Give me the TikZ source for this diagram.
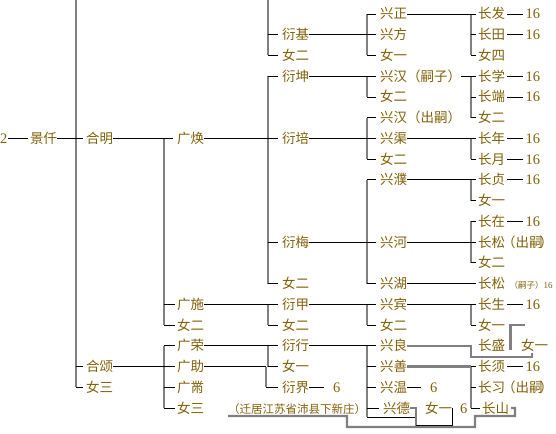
\documentclass[tikz,border=0pt]{standalone}
\usepackage{fontspec}
\newfontfamily\cjk{Noto Sans CJK SC}
\newfontfamily\digits{Liberation Serif}
\usepackage{tikz}
\usetikzlibrary{positioning}
\definecolor{namebrown}{RGB}{128,96,8}
\definecolor{bargray}{RGB}{128,128,128}
\tikzset{
  person/.style={anchor=west, inner sep=0pt, text=namebrown, text height=11.5pt, text depth=1.5pt,
    font=\cjk\fontsize{13.5}{14}\selectfont},
  gen/.style={person, font=\digits\fontsize{14.5}{15}\selectfont},
  vbar/.style={draw=bargray, line width=2.2pt},
  hline/.style={draw=black, line width=0.9pt},
}
\begin{document}
\begin{tikzpicture}[x=1pt, y=-20.74pt]
  \useasboundingbox (0,-0.675) rectangle (556,20.25);
  % column bars (top ends)
  \coordinate (c1) at (76,-0.675);
  \coordinate (c2) at (164,-0.675);
  \coordinate (c3) at (268,-0.675);
  \coordinate (c3g) at (266,-0.675);
  \coordinate (c4) at (367,-0.675);
  \coordinate (c5) at (471,-0.675);
  % generations 1-2
  \node[gen] (two) at (0,6) {2};
  \node[person] (jq) at (30,6) {景仟};
  \node[person] (hm) at (86,6) {合明};
  \node[person] (hs) at (86,17) {合颂};
  \node[person] (hsn) at (86,18) {女三};
  % generation 3
  \node[person] (gh) at (177,6) {广焕};
  \node[person] (gs) at (177,14) {广施};
  \node[person] (gsn) at (177,15) {女二};
  \node[person] (gr) at (177,16) {广荣};
  \node[person] (gz) at (177,17) {广助};
  \node[person] (gzh) at (177,18) {广黹};
  \node[person] (gzn) at (177,19) {女三};
  % generation 4
  \node[person] (yj) at (282,1) {衍基};
  \node[person] (yjn) at (282,2) {女二};
  \node[person] (yk) at (282,3) {衍坤};
  \node[person] (yp) at (282,6) {衍培};
  \node[person] (ym) at (282,11) {衍梅};
  \node[person] (ymn) at (282,13) {女二};
  \node[person] (yjia) at (282,14) {衍甲};
  \node[person] (yjian) at (282,15) {女二};
  \node[person] (yx) at (282,16) {衍行};
  \node[person] (yxn) at (282,17) {女一};
  \node[person] (yjie) at (282,18) {衍界};
  \node[gen] (yjie6) at (333,18) {6};
  % generation 5
  \node[person] (xz) at (380,0) {兴正};
  \node[person] (xf) at (380,1) {兴方};
  \node[person] (xzn) at (380,2) {女一};
  \node[person] (xh) at (380,3) {兴汉（嗣子）};
  \node[person] (xhn) at (380,4) {女二};
  \node[person] (xhc) at (380,5) {兴汉（出嗣）};
  \node[person] (xq) at (380,6) {兴渠};
  \node[person] (xqn) at (380,7) {女二};
  \node[person] (xp) at (380,8) {兴濮};
  \node[person] (xhe) at (380,11) {兴河};
  \node[person] (xhu) at (380,13) {兴湖};
  \node[person] (xb) at (380,14) {兴宾};
  \node[person] (xbn) at (380,15) {女二};
  \node[person] (xl) at (380,16) {兴良};
  \node[person] (xs) at (380,17) {兴善};
  \node[person] (xw) at (380,18) {兴温};
  \node[gen] (xw6) at (430,18) {6};
  \node[person] (xd) at (383,19) {兴德};
  \node[person] (xdn) at (425,19) {女一};
  \node[gen] (xd6) at (460,19) {6};
  \node[person, font=\cjk\fontsize{11.5}{12}\selectfont] (qj) at (228,19) {（迁居江苏省沛县下新庄）};
  % generation 6
  \node[person] (cf) at (478,0) {长发};
  \node[person] (ct) at (478,1) {长田};
  \node[person] (cn4) at (478,2) {女四};
  \node[person] (cx) at (478,3) {长学};
  \node[person] (cd) at (478,4) {长端};
  \node[person] (cxn) at (478,5) {女二};
  \node[person] (cnian) at (478,6) {长年};
  \node[person] (cy) at (478,7) {长月};
  \node[person] (czh) at (478,8) {长贞};
  \node[person] (czhn) at (478,9) {女一};
  \node[person] (cz) at (478,10) {长在};
  \node[person] (cs) at (478,11) {长松\kern-3pt（出嗣\kern-3pt）\kern-7pt};
  \node[person] (czn) at (478,12) {女二};
  \node[person] (cs2) at (478,13) {长松};
  \node[gen, font=\digits\fontsize{9}{9}\selectfont, right=4pt of cs2] (cs2n) {{\cjk\fontsize{8.5}{9}\selectfont （嗣子）}16};
  \node[person] (csh) at (478,14) {长生};
  \node[person] (cshn) at (478,15) {女一};
  \node[person] (csg) at (478,16) {长盛};
  \node[person] (csgn) at (521,16) {女一};
  \node[person] (cxu) at (478,17) {长须};
  \node[person] (cxi) at (478,18) {长习\kern-3pt（出嗣\kern-3pt）\kern-7pt};
  \node[person] (cshan) at (482,19) {长山};
  % gray bars
  \draw[vbar] (c1) -- (hsn.west -| c1);
  \draw[vbar] (gh.west -| c2) -- (gsn.west -| c2);
  \draw[vbar] (gr.west -| c2) -- (gzn.west -| c2);
  \draw[vbar] (c3) -- (yjn.west -| c3);
  \draw[vbar] (yk.west -| c3) -- (ymn.west -| c3);
  \draw[vbar] (yjia.west -| c3) -- (yjian.west -| c3);
  \draw[vbar] (yx.west -| c3) -- (yxn.west -| c3);
  \draw[vbar] (gz.east -| c3g) -- (yjie.west -| c3g);
  \draw[vbar] (xz.west -| c4) -- (xzn.west -| c4);
  \draw[vbar] (xh.west -| c4) -- (xhn.west -| c4);
  \draw[vbar] (xhc.west -| c4) -- (xqn.west -| c4);
  \draw[vbar] (xp.west -| c4) -- (xhu.west -| c4);
  \draw[vbar] (xb.west -| c4) -- (xbn.west -| c4);
  \coordinate (xdend) at (367,19.43);
  \draw[vbar] (xl.west -| c4) -- (xdend);
  \draw[vbar] (cf.west -| c5) -- (cn4.west -| c5);
  \draw[vbar] (cx.west -| c5) -- (cxn.west -| c5);
  \draw[vbar] (cnian.west -| c5) -- (cy.west -| c5);
  \draw[vbar] (czh.west -| c5) -- (czhn.west -| c5);
  \draw[vbar] (cz.west -| c5) -- (czn.west -| c5);
  \draw[vbar] (csh.west -| c5) -- (cshn.west -| c5);
  \draw[vbar] (cxu.west -| c5) -- (cshan.west -| c5);
  % ticks
  \foreach \p in {hs,hsn} \draw[hline] (\p.west -| c1) -- ([xshift=-3pt]\p.west);
  \foreach \p in {gs,gsn,gr,gzh,gzn} \draw[hline] (\p.west -| c2) -- ([xshift=-2pt]\p.west);
  \foreach \p in {yj,yjn,yk,ym,ymn,yjian,yxn} \draw[hline] (\p.west -| c3) -- ([xshift=-4pt]\p.west);
  \draw[hline] (yjie.west -| c3g) -- ([xshift=-4pt]yjie.west);
  \foreach \p in {xz,xzn,xhn,xhc,xqn,xp,xhu,xbn,xs,xw,xd} \draw[hline] (\p.west -| c4) -- ([xshift=-4pt]\p.west);
  \foreach \p in {ct,cn4,cd,cxn,cy,czhn,cz,czn,cshn,cxu,cxi,cshan} \draw[hline] (\p.west -| c5) -- ([xshift=-2pt]\p.west);
  % parent lines
  \draw[hline] (two.east) -- ([xshift=-2pt]jq.west);
  \draw[hline] (jq.east) -- ([xshift=-3pt]hm.west);
  \draw[hline] (hm.east) -- ([xshift=-4pt]gh.west);
  \draw[hline] (hs.east) -- ([xshift=-2pt]gz.west);
  \draw[hline] (gh.east) -- ([xshift=-4pt]yp.west);
  \draw[hline] (gs.east) -- ([xshift=-4pt]yjia.west);
  \draw[hline] (gr.east) -- ([xshift=-4pt]yx.west);
  \draw[hline] (gz.east) -- (gz.east -| c3g);
  \draw[hline] (yj.east) -- ([xshift=-4pt]xf.west);
  \draw[hline] (yk.east) -- ([xshift=-4pt]xh.west);
  \draw[hline] (yp.east) -- ([xshift=-4pt]xq.west);
  \draw[hline] (ym.east) -- ([xshift=-4pt]xhe.west);
  \draw[hline] (yjia.east) -- ([xshift=-4pt]xb.west);
  \draw[hline] (yx.east) -- ([xshift=-4pt]xl.west);
  \draw[hline] (yjie.east) -- ([xshift=-9pt]yjie6.west);
  \draw[hline] (xz.east) -- ([xshift=-2pt]cf.west);
  \draw[hline] (xh.east) -- ([xshift=-2pt]cx.west);
  \draw[hline] (xq.east) -- ([xshift=-2pt]cnian.west);
  \draw[hline] (xp.east) -- ([xshift=-2pt]czh.west);
  \draw[hline] (xhe.east) -- ([xshift=-2pt]cs.west);
  \draw[hline] (xhu.east) -- ([xshift=-2pt]cs2.west);
  \draw[hline] (xb.east) -- ([xshift=-2pt]csh.west);
  \draw[hline] (xw.east) -- ([xshift=-9pt]xw6.west);
  \draw[vbar] (xs.east) -- (xs.east -| c5);
  \draw[vbar] (xl.east) -- (xl.east -| c5) -- ++(0,0.54) -| ([xshift=11pt,yshift=-7pt]csgn.west);
  \draw[vbar] ([xshift=5pt,yshift=-4pt]csg.east) |- ([xshift=20pt]cshn.east);
  % sixteenth generation marks
  \foreach \p in {cf,ct,cx,cd,cnian,cy,czh,cz,csh,cxu} {
    \node[gen, right=20pt of \p] (\p-16) {16};
    \draw[hline] ([xshift=2pt]\p.east) -- ([xshift=-2pt]\p-16.west);
  }
  % bottom lines
  \coordinate (hook) at (416,19.43);
  \draw[hline] (xdend) -- (hook);
  \draw[vbar] (xd.east) -- (416,19) -- (416,19.86);
  \draw[hline] (xdn.east) -- (452,19) -- (452,19.82) -- (416,19.82);
  \draw[vbar] ([yshift=-8pt]qj.west) -- (347,19.38) -- (347,19.91) -- (475,19.91)
    -- (475,19.38) -- (515,19.38) -- (515,19) -- (511,19);
\end{tikzpicture}
\end{document}
